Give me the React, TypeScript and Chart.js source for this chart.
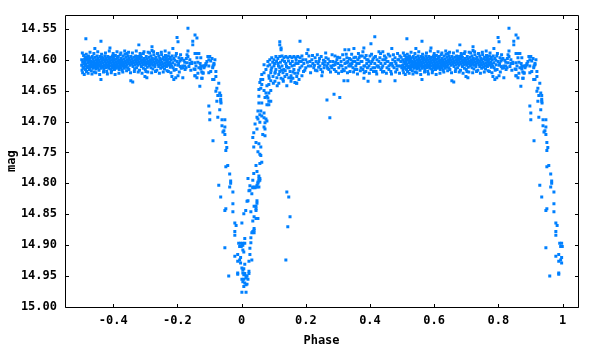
import React, { useEffect, useRef } from "react";
import { Chart, registerables } from "chart.js";

Chart.register(...registerables);

// Phase-folded light curve: [phase, mag].
// Points with phase < 0 are drawn again at phase + 1 (standard folded-curve display).

const baselineA: number[][] = [
[-0.498,14.600],[-0.498,14.609],[-0.497,14.617],[-0.495,14.604],[-0.494,14.612],[-0.495,14.621],
[-0.492,14.593],[-0.491,14.606],[-0.492,14.614],[-0.489,14.599],[-0.488,14.610],[-0.489,14.603],
[-0.486,14.596],[-0.485,14.607],[-0.486,14.616],[-0.483,14.601],[-0.482,14.611],[-0.483,14.619],
[-0.480,14.598],[-0.479,14.605],[-0.480,14.613],[-0.477,14.594],[-0.476,14.603],[-0.477,14.610],
[-0.474,14.600],[-0.473,14.608],[-0.474,14.616],[-0.471,14.597],[-0.470,14.606],[-0.471,14.612],
[-0.468,14.602],[-0.467,14.609],[-0.468,14.618],[-0.465,14.595],[-0.464,14.604],[-0.465,14.611],
[-0.462,14.599],[-0.461,14.607],[-0.462,14.614],[-0.459,14.603],[-0.458,14.610],[-0.459,14.620],
[-0.456,14.596],[-0.455,14.605],[-0.456,14.612],[-0.453,14.600],[-0.452,14.608],[-0.453,14.615],
[-0.450,14.594],[-0.449,14.603],[-0.450,14.611],[-0.447,14.598],[-0.446,14.606],[-0.447,14.613],
[-0.444,14.601],[-0.443,14.609],[-0.444,14.617],[-0.441,14.595],[-0.440,14.604],[-0.441,14.610],
[-0.438,14.599],[-0.437,14.607],[-0.438,14.614],[-0.435,14.602],[-0.434,14.611],[-0.435,14.596],
[-0.432,14.605],[-0.431,14.612],[-0.432,14.598],[-0.429,14.600],[-0.428,14.608],[-0.429,14.616],
[-0.426,14.594],[-0.425,14.603],[-0.426,14.610],[-0.423,14.598],[-0.422,14.606],[-0.423,14.613],
[-0.420,14.601],[-0.419,14.609],[-0.420,14.619],[-0.417,14.595],[-0.416,14.604],[-0.417,14.611],
[-0.414,14.599],[-0.413,14.607],[-0.414,14.614],[-0.411,14.603],[-0.410,14.610],[-0.411,14.597],
[-0.408,14.596],[-0.407,14.605],[-0.408,14.615],[-0.405,14.600],[-0.404,14.608],[-0.405,14.618],
[-0.402,14.594],[-0.401,14.603],[-0.402,14.611],[-0.399,14.598],[-0.398,14.606],[-0.399,14.613],
[-0.396,14.601],[-0.395,14.609],[-0.396,14.616],[-0.393,14.593],[-0.392,14.604],[-0.393,14.611],
[-0.390,14.599],[-0.389,14.607],[-0.390,14.614],[-0.387,14.597],[-0.386,14.602],[-0.387,14.610],
[-0.384,14.595],[-0.383,14.605],[-0.384,14.612],[-0.381,14.600],[-0.380,14.608],[-0.381,14.616],
[-0.378,14.592],[-0.377,14.603],[-0.378,14.611],[-0.375,14.598],[-0.374,14.606],[-0.375,14.613],
[-0.372,14.601],[-0.371,14.609],[-0.372,14.617],[-0.369,14.594],[-0.368,14.604],[-0.369,14.610],
[-0.366,14.599],[-0.365,14.607],[-0.366,14.614],[-0.363,14.591],[-0.362,14.602],[-0.363,14.611],
[-0.360,14.596],[-0.359,14.605],[-0.360,14.612],[-0.357,14.590],[-0.356,14.600],[-0.357,14.608],
[-0.354,14.594],[-0.353,14.603],[-0.354,14.613],[-0.351,14.598],[-0.350,14.606],[-0.351,14.616],
[-0.348,14.601],[-0.347,14.609],[-0.345,14.595],[-0.344,14.604],[-0.342,14.599],[-0.341,14.607],
[-0.339,14.603],[-0.338,14.611],[-0.336,14.596],[-0.335,14.605],[-0.333,14.600],[-0.332,14.608],
[-0.333,14.615],[-0.330,14.594],[-0.329,14.603],[-0.327,14.598],[-0.326,14.606],[-0.327,14.613],
[-0.324,14.601],[-0.323,14.609],[-0.321,14.595],[-0.320,14.604],[-0.318,14.599],[-0.317,14.607],
[-0.318,14.617],[-0.315,14.592],[-0.314,14.602],[-0.312,14.596],[-0.311,14.605],[-0.312,14.611],
[-0.309,14.600],[-0.308,14.608],[-0.306,14.590],[-0.305,14.603],[-0.306,14.614],[-0.303,14.598],
[-0.302,14.606],[-0.300,14.601],[-0.299,14.609],[-0.300,14.616],[-0.297,14.595],[-0.296,14.604],
[-0.294,14.599],[-0.293,14.607],[-0.294,14.612],[-0.291,14.588],[-0.290,14.603],[-0.288,14.596],
[-0.287,14.605],[-0.288,14.610],[-0.285,14.600],[-0.284,14.608],[-0.282,14.594],[-0.281,14.603],
[-0.282,14.613],[-0.279,14.606],[-0.278,14.598],[-0.276,14.601],[-0.275,14.609],[-0.276,14.615],
[-0.273,14.592],[-0.272,14.604],[-0.270,14.599],[-0.269,14.607],[-0.270,14.611],[-0.267,14.596],
[-0.266,14.602],[-0.264,14.600],[-0.263,14.605],[-0.264,14.617],[-0.261,14.590],[-0.260,14.608],
[-0.258,14.594],[-0.257,14.603],[-0.258,14.611],[-0.255,14.598],[-0.254,14.606],[-0.252,14.601],
[-0.251,14.609],[-0.252,14.614],[-0.249,14.592],[-0.248,14.604],[-0.246,14.599],[-0.245,14.607],
[-0.246,14.612],[-0.243,14.596],[-0.242,14.610],[-0.240,14.600],[-0.239,14.605],[-0.240,14.615],
[-0.237,14.593],[-0.236,14.608],[-0.234,14.598],[-0.233,14.603],[-0.234,14.611],[-0.231,14.601],
[-0.230,14.606],[-0.228,14.594],[-0.227,14.609],[-0.228,14.619],[-0.225,14.599],[-0.224,14.604],
[-0.222,14.596],[-0.221,14.607],[-0.222,14.612],[-0.219,14.600],[-0.218,14.610],[-0.214,14.605],
[-0.213,14.613],[-0.211,14.598],[-0.208,14.601],[-0.207,14.608],[-0.205,14.594],[-0.204,14.616],
[-0.201,14.603],[-0.198,14.609],[-0.195,14.597],[-0.194,14.620],[-0.192,14.602],[-0.191,14.611],
[-0.189,14.600],[-0.188,14.614],
];

const bandEdgeA: number[][] = [
[-0.496,14.589],[-0.490,14.624],[-0.484,14.591],[-0.478,14.622],[-0.472,14.588],[-0.466,14.623],
[-0.460,14.590],[-0.454,14.621],[-0.448,14.587],[-0.442,14.624],[-0.436,14.591],[-0.430,14.620],
[-0.424,14.589],[-0.418,14.623],[-0.412,14.586],[-0.406,14.621],[-0.400,14.590],[-0.394,14.624],
[-0.388,14.587],[-0.382,14.622],[-0.376,14.589],[-0.370,14.620],[-0.364,14.586],[-0.358,14.618],
[-0.352,14.588],[-0.346,14.621],[-0.340,14.589],[-0.334,14.619],[-0.328,14.586],[-0.322,14.620],
[-0.316,14.590],[-0.310,14.622],[-0.304,14.587],[-0.298,14.619],[-0.292,14.620],[-0.286,14.589],
[-0.280,14.621],[-0.274,14.587],[-0.268,14.619],[-0.262,14.590],[-0.256,14.622],[-0.250,14.588],
[-0.244,14.620],[-0.238,14.586],[-0.232,14.618],[-0.226,14.589],[-0.220,14.621],[-0.216,14.594],
[-0.210,14.617],[-0.203,14.590],[-0.196,14.606],[-0.190,14.592],
];

const shoulderA: number[][] = [
[-0.186,14.598],[-0.183,14.610],[-0.180,14.601],[-0.177,14.604],[-0.176,14.616],[-0.173,14.613],
[-0.172,14.598],[-0.167,14.586],[-0.170,14.592],[-0.167,14.595],[-0.164,14.611],[-0.161,14.600],
[-0.170,14.605],[-0.161,14.606],[-0.158,14.617],[-0.155,14.604],[-0.155,14.606],[-0.145,14.605],
[-0.148,14.615],[-0.142,14.610],[-0.145,14.626],[-0.139,14.629],[-0.136,14.604],[-0.133,14.613],
[-0.139,14.590],[-0.133,14.590],[-0.145,14.590],[-0.127,14.597],[-0.139,14.597],[-0.129,14.606],
[-0.127,14.611],[-0.120,14.610],[-0.127,14.615],[-0.124,14.620],[-0.124,14.630],[-0.117,14.613],
[-0.114,14.610],[-0.111,14.608],[-0.108,14.603],[-0.105,14.595],[-0.099,14.595],[-0.102,14.600],
[-0.096,14.602],[-0.092,14.598],[-0.111,14.606],[-0.117,14.610],[-0.102,14.610],[-0.090,14.613],
[-0.096,14.619],[-0.102,14.621],[-0.120,14.621],[-0.120,14.622],[-0.086,14.606],[-0.089,14.610],
[-0.086,14.608],[-0.086,14.632],[-0.083,14.600],[-0.080,14.619],[-0.080,14.627],[-0.090,14.632],
[-0.145,14.616],[-0.136,14.622],[-0.145,14.626],[-0.123,14.630],[-0.177,14.610],[-0.183,14.613],
[-0.183,14.629],[-0.205,14.629],[-0.198,14.626],
];

const ingress: number[][] = [
[-0.071,14.638],[-0.077,14.646],[-0.080,14.651],[-0.074,14.658],[-0.065,14.658],[-0.068,14.654],
[-0.077,14.667],[-0.065,14.667],[-0.065,14.664],[-0.064,14.670],[-0.102,14.675],[-0.099,14.686],
[-0.099,14.697],[-0.074,14.693],[-0.068,14.681],[-0.061,14.697],[-0.052,14.697],[-0.061,14.707],
[-0.052,14.709],[-0.055,14.715],[-0.058,14.717],[-0.052,14.721],[-0.089,14.731],[-0.049,14.734],
[-0.046,14.742],[-0.049,14.747],[-0.043,14.771],[-0.049,14.773],[-0.037,14.785],[-0.034,14.796],
[-0.034,14.800],[-0.071,14.803],[-0.037,14.806],[-0.027,14.814],[-0.065,14.822],[-0.027,14.833],
[-0.049,14.841],[-0.052,14.844],[-0.027,14.846],[-0.021,14.864],[-0.017,14.868],[-0.021,14.878],
[-0.021,14.884],[-0.052,14.904],[-0.009,14.897],[-0.003,14.897],[-0.006,14.902],[-0.001,14.902],
[-0.012,14.915],[-0.021,14.918],[-0.003,14.920],[-0.012,14.926],[-0.006,14.924],[-0.003,14.929],
[-0.012,14.945],[-0.012,14.947],[-0.040,14.950],
];

const eclipseFloor: number[][] = [
[0.020,14.792],[0.035,14.795],[0.054,14.792],[0.057,14.795],[0.051,14.798],
[0.035,14.807],[0.042,14.807],[0.048,14.806],[0.017,14.829],[0.039,14.837],[0.045,14.837],
[0.048,14.832],[0.029,14.846],[0.013,14.844],[0.007,14.849],[0.045,14.841],[0.045,14.844],
[0.039,14.854],[0.045,14.857],[0.051,14.857],[0.035,14.861],[0.032,14.880],[0.035,14.878],
[0.039,14.880],[0.039,14.873],[0.039,14.876],[0.001,14.864],[0.029,14.888],[0.010,14.889],
[0.029,14.896],[0.004,14.900],[0.004,14.897],[0.010,14.897],[0.001,14.900],[0.026,14.905],
[0.004,14.908],[0.007,14.911],[0.026,14.915],[0.023,14.926],[0.032,14.924],[0.010,14.931],
[0.001,14.937],[0.004,14.940],[0.007,14.938],[0.023,14.942],[0.023,14.946],[0.004,14.945],
[0.010,14.946],[0.007,14.948],[0.014,14.950],[0.001,14.955],[0.007,14.955],[0.014,14.953],
[0.020,14.955],[0.017,14.950],[0.004,14.959],[0.010,14.961],[0.017,14.963],[0.014,14.964],
[0.007,14.967],[0.001,14.976],[0.014,14.976],
];

const egress: number[][] = [
[0.063,14.624],[0.060,14.632],[0.066,14.632],[0.057,14.637],[0.063,14.640],[0.054,14.648],
[0.060,14.646],[0.070,14.650],[0.079,14.642],[0.085,14.640],[0.091,14.650],[0.085,14.654],
[0.076,14.654],[0.079,14.659],[0.073,14.661],[0.082,14.662],[0.091,14.667],[0.085,14.667],
[0.079,14.673],[0.085,14.673],[0.054,14.659],[0.054,14.670],[0.063,14.670],[0.051,14.683],
[0.060,14.683],[0.070,14.686],[0.057,14.689],[0.063,14.691],[0.048,14.693],[0.051,14.696],
[0.070,14.694],[0.076,14.696],[0.079,14.699],[0.073,14.702],[0.070,14.709],[0.073,14.712],
[0.057,14.701],[0.042,14.704],[0.048,14.712],[0.066,14.721],[0.073,14.723],[0.038,14.718],
[0.035,14.726],[0.045,14.734],[0.054,14.736],[0.060,14.741],[0.038,14.741],[0.051,14.749],
[0.057,14.753],[0.060,14.755],[0.063,14.766],[0.057,14.768],[0.045,14.771],[0.048,14.781],
[0.038,14.784],[0.054,14.788],[0.057,14.792],[0.054,14.796],[0.051,14.800],[0.048,14.803],
[0.042,14.806],[0.035,14.806],[0.054,14.806],[0.026,14.804],[0.032,14.817],[0.023,14.812],
[0.026,14.811],[0.020,14.828],[0.048,14.828],
];

const shoulderB: number[][] = [
[0.070,14.608],[0.082,14.603],[0.088,14.600],[0.094,14.597],[0.101,14.600],[0.107,14.595],
[0.113,14.598],[0.119,14.595],[0.126,14.594],[0.132,14.597],[0.138,14.595],[0.144,14.597],
[0.151,14.595],[0.157,14.597],[0.163,14.595],[0.169,14.597],[0.175,14.595],[0.182,14.597],
[0.082,14.610],[0.088,14.608],[0.094,14.613],[0.101,14.610],[0.107,14.616],[0.113,14.606],
[0.119,14.613],[0.126,14.610],[0.132,14.616],[0.138,14.606],[0.144,14.613],[0.151,14.619],
[0.157,14.610],[0.163,14.616],[0.169,14.606],[0.175,14.622],[0.182,14.613],
[0.085,14.626],[0.091,14.621],[0.098,14.627],[0.104,14.622],[0.110,14.629],[0.116,14.624],
[0.123,14.630],[0.129,14.621],[0.135,14.627],[0.141,14.624],[0.147,14.629],[0.154,14.626],
[0.160,14.630],[0.166,14.622],[0.172,14.627],[0.179,14.632],[0.172,14.638],
[0.091,14.634],[0.104,14.635],[0.116,14.638],[0.129,14.632],[0.141,14.642],[0.154,14.635],
[0.166,14.637],[0.070,14.621],[0.076,14.616],[0.086,14.630],[0.099,14.638],[0.111,14.642],
[0.130,14.635],[0.155,14.630],[0.171,14.638],[0.097,14.604],[0.103,14.606],[0.109,14.603],
[0.115,14.610],[0.121,14.604],[0.127,14.601],[0.134,14.603],[0.140,14.611],[0.146,14.602],
[0.152,14.606],[0.158,14.603],[0.164,14.609],[0.170,14.601],[0.176,14.606],[0.180,14.603],
[0.119,14.619],[0.136,14.618],[0.148,14.613],[0.160,14.620],[0.092,14.617],[0.105,14.620],
[0.125,14.617],[0.178,14.617],
];

const baselineB: number[][] = [
[0.188,14.594],[0.191,14.600],[0.188,14.610],[0.194,14.606],[0.200,14.600],[0.200,14.613],
[0.210,14.594],[0.213,14.603],[0.216,14.610],[0.219,14.600],[0.222,14.606],[0.225,14.613],
[0.229,14.597],[0.232,14.603],[0.235,14.618],[0.238,14.606],[0.241,14.603],[0.244,14.610],
[0.247,14.616],[0.250,14.626],[0.253,14.606],[0.257,14.613],[0.260,14.603],[0.263,14.597],
[0.266,14.610],[0.269,14.606],[0.272,14.616],[0.275,14.603],[0.278,14.610],[0.281,14.613],
[0.284,14.603],[0.291,14.594],[0.291,14.608],[0.294,14.619],[0.297,14.600],[0.300,14.606],
[0.303,14.613],[0.306,14.597],[0.310,14.603],[0.313,14.610],[0.316,14.616],[0.319,14.600],
[0.322,14.606],[0.325,14.613],[0.328,14.597],[0.331,14.603],[0.334,14.610],[0.338,14.619],
[0.341,14.600],[0.344,14.606],[0.347,14.613],[0.350,14.597],[0.353,14.603],[0.356,14.610],
[0.359,14.616],[0.362,14.600],[0.366,14.606],[0.369,14.594],[0.372,14.613],[0.375,14.603],
[0.378,14.587],[0.381,14.610],[0.384,14.597],[0.387,14.619],[0.390,14.606],[0.394,14.600],
[0.397,14.610],[0.400,14.594],[0.403,14.616],[0.406,14.603],[0.409,14.613],[0.412,14.597],
[0.415,14.606],[0.419,14.619],[0.422,14.600],[0.425,14.610],[0.428,14.587],[0.431,14.597],
[0.434,14.606],[0.437,14.613],[0.440,14.587],[0.440,14.600],[0.443,14.619],[0.447,14.606],
[0.450,14.597],[0.453,14.613],[0.456,14.603],[0.459,14.610],[0.462,14.594],[0.465,14.619],
[0.468,14.606],[0.471,14.600],[0.475,14.613],[0.478,14.597],[0.481,14.606],[0.484,14.616],
[0.487,14.600],[0.490,14.610],[0.493,14.594],[0.496,14.603],[0.499,14.613],
[0.341,14.610],[0.347,14.603],[0.353,14.616],[0.359,14.606],[0.366,14.597],[0.372,14.603],
[0.378,14.616],[0.384,14.610],[0.390,14.600],[0.397,14.603],[0.403,14.606],[0.409,14.600],
[0.415,14.613],[0.422,14.610],[0.428,14.603],[0.434,14.616],[0.440,14.610],[0.447,14.600],
[0.453,14.603],[0.459,14.616],[0.465,14.606],[0.471,14.610],[0.478,14.603],[0.484,14.610],
[0.490,14.600],[0.496,14.610],[0.197,14.617],[0.205,14.604],[0.227,14.609],[0.243,14.598],
[0.255,14.601],[0.268,14.614],[0.286,14.609],[0.299,14.596],[0.312,14.619],[0.327,14.605],
[0.336,14.598],
];

const bandEdgeB: number[][] = [
[0.186,14.603],[0.193,14.619],[0.203,14.590],[0.208,14.610],[0.215,14.621],[0.221,14.593],
[0.230,14.617],[0.236,14.592],[0.240,14.612],[0.248,14.595],[0.252,14.620],[0.258,14.608],
[0.262,14.589],[0.270,14.599],[0.277,14.620],[0.282,14.592],[0.289,14.616],[0.293,14.604],
[0.302,14.622],[0.308,14.609],[0.315,14.592],[0.320,14.618],[0.326,14.591],[0.330,14.621],
[0.337,14.607],[0.343,14.591],[0.349,14.620],[0.355,14.596],[0.361,14.623],[0.364,14.590],
[0.370,14.618],[0.376,14.594],[0.382,14.621],[0.388,14.593],[0.392,14.613],[0.398,14.622],
[0.405,14.591],[0.411,14.619],[0.417,14.595],[0.421,14.623],[0.427,14.612],[0.433,14.590],
[0.439,14.620],[0.445,14.594],[0.451,14.622],[0.457,14.591],[0.463,14.608],[0.467,14.623],
[0.473,14.592],[0.480,14.620],[0.486,14.590],[0.492,14.622],[0.497,14.596],
];

const outliers: number[][] = [
[-0.485,14.566],[-0.457,14.582],[-0.438,14.570],[-0.438,14.632],[-0.410,14.581],[-0.345,14.634],
[-0.339,14.636],[-0.320,14.576],[-0.301,14.627],[-0.295,14.629],[-0.279,14.579],[-0.279,14.585],
[-0.217,14.627],[-0.214,14.582],[-0.211,14.632],[-0.201,14.564],[-0.198,14.571],[-0.167,14.549],
[-0.145,14.560],[-0.139,14.565],[-0.152,14.570],[-0.152,14.576],[-0.130,14.643],
[0.119,14.571],[0.119,14.576],[0.123,14.581],[0.123,14.584],
[0.141,14.814],[0.147,14.822],[0.151,14.854],[0.144,14.870],[0.138,14.924],
[0.182,14.570],[0.207,14.584],[0.188,14.626],[0.266,14.665],[0.275,14.694],[0.288,14.656],
[0.306,14.661],[0.319,14.634],[0.331,14.634],[0.322,14.584],[0.334,14.584],[0.350,14.582],
[0.381,14.581],[0.403,14.574],[0.415,14.563],[0.431,14.635],[0.394,14.635],[0.381,14.630],
[0.468,14.582],[0.478,14.634],
];

const xTickValues = [-0.4, -0.2, 0, 0.2, 0.4, 0.6, 0.8, 1];
const xTickLabels = ["-0.4", "-0.2", "0", "0.2", "0.4", "0.6", "0.8", "1"];
const yTickValues = [14.55, 14.6, 14.65, 14.7, 14.75, 14.8, 14.85, 14.9, 14.95, 15.0];
const yTickLabels = ["14.55", "14.60", "14.65", "14.70", "14.75", "14.80", "14.85", "14.90", "14.95", "15.00"];

const X_MIN = -0.55;
const X_MAX = 1.048;
const Y_MIN = 14.528;
const Y_MAX = 15.0;

const FONT = { family: "'DejaVu Sans Mono', monospace", size: 12, weight: "bold" as const };

const framePlugin = {
  id: "frame",
  afterDatasetsDraw(chart: any) {
    const { ctx, chartArea, scales } = chart;
    const l = Math.round(chartArea.left), r = Math.round(chartArea.right);
    const t = Math.round(chartArea.top), b = Math.round(chartArea.bottom);
    ctx.save();
    ctx.strokeStyle = "#000";
    ctx.lineWidth = 1;
    ctx.beginPath();
    ctx.rect(l + 0.5, t + 0.5, r - l, b - t);
    ctx.stroke();
    ctx.beginPath();
    for (const tk of scales.x.ticks) {
      const px = Math.round(scales.x.getPixelForValue(tk.value)) + 0.5;
      ctx.moveTo(px, b + 0.5); ctx.lineTo(px, b - 3);
      ctx.moveTo(px, t + 0.5); ctx.lineTo(px, t + 4);
    }
    for (const tk of scales.y.ticks) {
      const py = Math.round(scales.y.getPixelForValue(tk.value)) + 0.5;
      ctx.moveTo(l + 0.5, py); ctx.lineTo(l + 4, py);
      ctx.moveTo(r + 0.5, py); ctx.lineTo(r - 3, py);
    }
    ctx.stroke();
    ctx.restore();
  },
};

export default function App() {
  const ref = useRef<HTMLCanvasElement | null>(null);
  useEffect(() => {
    document.body.style.margin = "0";
    const base = [
      ...baselineA, ...bandEdgeA, ...shoulderA, ...ingress, ...eclipseFloor,
      ...egress, ...shoulderB, ...baselineB, ...bandEdgeB, ...outliers,
    ];
    const pts = base.map(([x, y]) => ({ x, y }));
    const repeated = base.filter(([x]) => x < 0).map(([x, y]) => ({ x: x + 1, y }));
    const chart = new Chart(ref.current as HTMLCanvasElement, {
      type: "scatter",
      data: {
        datasets: [
          {
            data: [...pts, ...repeated],
            pointStyle: "rect",
            pointRadius: 2.12,
            pointBorderWidth: 0,
            backgroundColor: "rgb(0,128,255)",
            borderColor: "rgb(0,128,255)",
          },
        ],
      },
      options: {
        responsive: false,
        animation: false,
        events: [],
        layout: { padding: { left: 0, right: 22, top: 13, bottom: 0 } },
        plugins: { legend: { display: false }, tooltip: { enabled: false } },
        scales: {
          x: {
            type: "linear",
            min: X_MIN,
            max: X_MAX,
            grid: { display: false, drawTicks: false },
            border: { display: false },
            afterBuildTicks: (s: any) => { s.ticks = xTickValues.map((v) => ({ value: v })); },
            afterFit: (s: any) => { s.height = 43; },
            ticks: {
              font: FONT,
              color: "#000",
              padding: 7,
              maxRotation: 0,
              autoSkip: false,
              callback: (_v: any, i: number) => xTickLabels[i],
            },
            title: { display: true, text: "Phase", font: FONT, color: "#000", padding: { top: 0, bottom: 2 } },
          },
          y: {
            type: "linear",
            reverse: true,
            min: Y_MIN,
            max: Y_MAX,
            grid: { display: false, drawTicks: false },
            border: { display: false },
            afterBuildTicks: (s: any) => { s.ticks = yTickValues.map((v) => ({ value: v })); },
            afterFit: (s: any) => { s.width = 65; },
            ticks: {
              font: FONT,
              color: "#000",
              padding: 8,
              autoSkip: false,
              callback: (_v: any, i: number) => yTickLabels[i],
            },
            title: { display: true, text: "mag", font: FONT, color: "#000", padding: { top: 5, bottom: 0 } },
          },
        },
      },
      plugins: [framePlugin],
    });
    return () => chart.destroy();
  }, []);
  return <canvas ref={ref} width={600} height={350} style={{ display: "block" }} />;
}
